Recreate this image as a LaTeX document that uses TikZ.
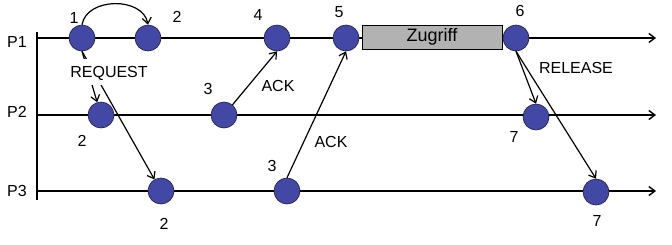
\documentclass[tikz,border=0pt]{standalone}
\usepackage{fontspec}
\setmainfont{Liberation Sans}
\usetikzlibrary{arrows.meta}
\definecolor{evblue}{RGB}{67,72,166}

\begin{document}
\begin{tikzpicture}[x=1pt,y=-1pt,font=\fontsize{16}{18}\selectfont,>={Straight Barb[length=6pt,width=9pt]},
  event/.style={circle,fill=evblue,draw=evblue!40!black,line width=0.6pt,minimum size=26pt,inner sep=0pt},
  lbl/.style={inner sep=0pt,text height=11.5pt,text depth=0pt,anchor=center},
  msg/.style={->,line width=1.2pt},
  axisline/.style={line width=1.4pt}]
\useasboundingbox (0,0) rectangle (672,244);
% time lines
\draw[axisline] (37,32)--(37,200);
\coordinate (p1s) at (37,38);  \coordinate (p1e) at (656,38);
\coordinate (p2s) at (37,115); \coordinate (p2e) at (656,115);
\coordinate (p3s) at (37,191); \coordinate (p3e) at (656,191);
\draw[axisline,->] (p1s)--(p1e);
\draw[axisline,->] (p2s)--(p2e);
\draw[axisline,->] (p3s)--(p3e);
\node[lbl] (lp1) at (17,42){P1};
\node[lbl] (lp2) at (17,112){P2};
\node[lbl] (lp3) at (17,191){P3};
% access box
\node[draw=black,fill=black!30,line width=0.8pt,minimum width=140pt,minimum height=24pt,inner sep=0pt,
  font=\fontsize{18}{20}\selectfont] (zug) at (432,37){Zugriff};
% events
\node[event] (c1) at (82,38){};
\node[event] (c2) at (148,38){};
\node[event] (c4) at (277,38){};
\node[event] (c5) at (346,38){};
\node[event] (c6) at (516,38){};
\node[event] (c2b) at (101,115){};
\node[event] (c3b) at (224,115){};
\node[event] (c7b) at (536,117){};
\node[event] (c2c) at (161,191){};
\node[event] (c3c) at (287,191){};
\node[event] (c7c) at (596,192){};
% messages
\draw[msg] (c1.north) to[out=80,in=100,looseness=1.1] (c2.north);
\draw[msg] (c1.south)--(c2b);
\draw[msg] (c1.south)--(c2c);
\node[lbl,fill=white,minimum height=26pt,inner xsep=2pt] (req) at (109,72){REQUEST};
\draw[msg] (c3b)--(c4.south);
\draw[msg] (c3c.north)--(c5.south);
\draw[msg] (c6.south)--(c7b.north);
\draw[msg] (c6.south)--(c7c.north);
% labels
\node[lbl] (n1) at (74,18){1};
\node[lbl] (n2) at (177,17){2};
\node[lbl] (n4) at (258,15){4};
\node[lbl] (n5) at (339,12){5};
\node[lbl] (n6) at (520,11){6};
\node[lbl] (n3b) at (208,89){3};
\node[lbl] (ack1) at (278,86){ACK};
\node[lbl] (rel) at (576,68){RELEASE};
\node[lbl] (n2b) at (82,141){2};
\node[lbl] (ack2) at (331,142){ACK};
\node[lbl] (n3c) at (272,166){3};
\node[lbl] (n2c) at (164,224){2};
\node[lbl] (n7b) at (514,137){7};
\node[lbl] (n7c) at (597,221){7};
\end{tikzpicture}
\end{document}
